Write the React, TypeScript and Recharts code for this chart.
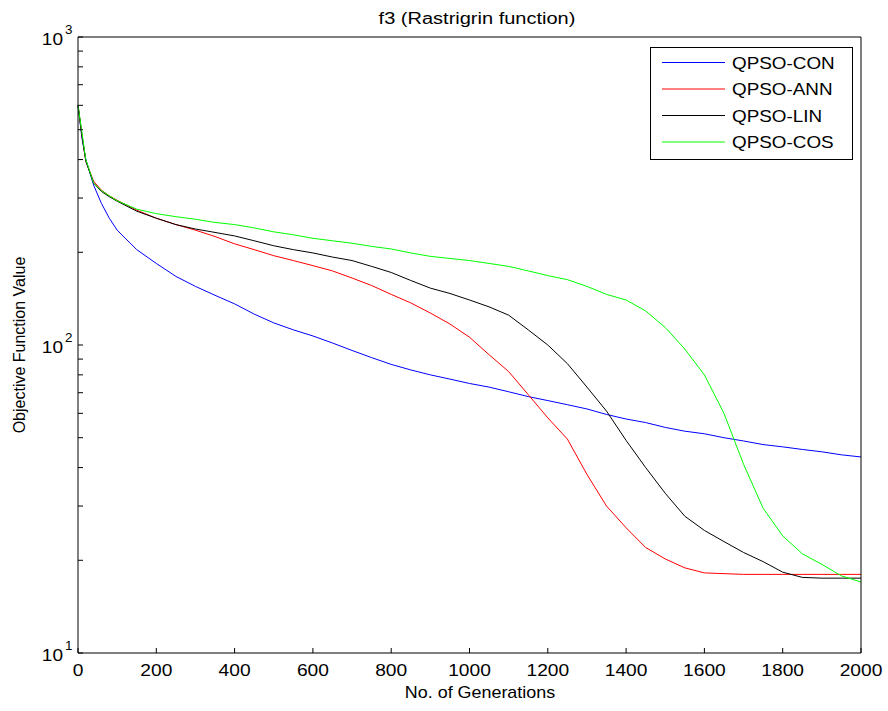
import { LineChart, Line, XAxis, YAxis, Legend } from "recharts";

// generation index of every sample
const generations = [
  0, 10, 20, 40, 60, 80, 100, 150, 200, 250, 300, 350, 400, 450, 500, 550,
  600, 650, 700, 750, 800, 850, 900, 950, 1000, 1050, 1100, 1150, 1200, 1250,
  1300, 1350, 1400, 1450, 1500, 1550, 1600, 1650, 1700, 1750, 1800, 1850,
  1900, 1950, 2000,
];

const qpsoCon = [
  600, 470, 400, 330, 288, 258, 236, 204, 184, 167, 155, 145, 136, 126, 118,
  112, 107, 101.5, 96, 91, 86.5, 83, 80, 77.5, 75, 73, 70.5, 68, 66, 64, 62,
  59.5, 57.5, 56, 54, 52.5, 51.5, 50, 48.8, 47.5, 46.7, 45.8, 45, 44, 43.3,
];

const qpsoAnn = [
  600, 480, 395, 340, 318, 305, 295, 274, 258, 246, 236, 225, 213, 204, 195,
  188, 181, 174, 165, 156, 146, 137, 127, 117, 106, 93, 82, 69, 58, 49.5, 38,
  30, 25.5, 22, 20.2, 18.9, 18.2, 18.1, 18, 18, 18, 18, 18, 18, 18,
];

const qpsoLin = [
  600, 480, 395, 335, 315, 303, 293, 272, 258, 246, 238, 232, 226, 218, 210,
  204, 199, 193, 188, 180, 172, 162, 153, 147, 140, 133, 125, 112, 100, 87, 73,
  61, 49, 40, 33, 27.8, 25, 23, 21.2, 19.8, 18.3, 17.6, 17.5, 17.5, 17.5,
];

const qpsoCos = [
  600, 490, 400, 335, 317, 305, 294, 276, 267, 261, 256, 250, 246, 240, 233,
  228, 222, 218, 214, 209, 205, 199, 194, 191, 188, 184, 180, 174, 168, 163,
  155, 146, 140, 129, 114, 97, 80, 60, 41, 29.5, 24, 21, 19.4, 17.8, 17,
];

const seriesNames = ["QPSO-CON", "QPSO-ANN", "QPSO-LIN", "QPSO-COS"];
const xTicks = [0, 200, 400, 600, 800, 1000, 1200, 1400, 1600, 1800, 2000];
const yTicks = [
  10, 20, 30, 40, 50, 60, 70, 80, 90, 100, 200, 300, 400, 500, 600, 700, 800,
  900, 1000,
];

const data = generations.map((g, i) => ({
  gen: g,
  con: qpsoCon[i],
  ann: qpsoAnn[i],
  lin: qpsoLin[i],
  cos: qpsoCos[i],
}));

const FONT = "'Liberation Sans', Arial, sans-serif";
const tickStroke = { stroke: "#000", strokeWidth: 1 };

const isDecade = (v: number) => {
  const e = Math.round(Math.log10(v));
  return Math.abs(Math.pow(10, e) - v) < 1e-6;
};

// decade label: 10 with a raised exponent, minor ticks get no label
const DecadeTick = (props: any) => {
  const x = Number(props.x);
  const y = Number(props.y);
  const v = Number(props.payload.value);
  if (!isDecade(v)) return <g />;
  const exp = Math.round(Math.log10(v));
  return (
    <g fontFamily={FONT} fill="#000" stroke="none">
      <text transform={`translate(${x - 15},${y + 8}) scale(1.12,1)`} textAnchor="end" fontSize={17}>
        10
      </text>
      <text transform={`translate(${x - 13},${y - 3}) scale(1.12,1)`} fontSize={12}>
        {exp}
      </text>
    </g>
  );
};

const BottomTick = (props: any) => {
  const x = Number(props.x);
  const y = Number(props.y);
  return (
    <text
      transform={`translate(${x},${y + 23}) scale(1.2,1)`}
      textAnchor="middle"
      fontSize={16}
      fontFamily={FONT}
      fill="#000"
      stroke="none"
    >
      {props.payload.value}
    </text>
  );
};

const LegendBox = (props: any) => {
  const items = [...(props.payload || [])].sort(
    (a: any, b: any) => seriesNames.indexOf(a.value) - seriesNames.indexOf(b.value)
  );
  return (
    <svg width={203} height={113} style={{ display: "block" }}>
      <rect x={0.5} y={0.5} width={202} height={112} fill="#fff" stroke="#000" />
      {items.map((it: any, i: number) => {
        const cy = 15.5 + i * 26.5;
        return (
          <g key={it.value}>
            <line x1={12} x2={75} y1={cy} y2={cy} stroke={it.color} />
            <text
              transform={`translate(82,${cy + 6}) scale(1.18,1)`}
              fontSize={16}
              fontFamily={FONT}
              fill="#000"
            >
              {it.value}
            </text>
          </g>
        );
      })}
    </svg>
  );
};

export default function App() {
  return (
    <div style={{ position: "absolute", left: 0, top: 0, width: 888, height: 711, background: "#fff" }}>
      <LineChart
        width={888}
        height={711}
        data={data}
        margin={{ top: 0, right: 0, bottom: 0, left: 0 }}
        style={{ fontFamily: FONT }}
      >
        <XAxis
          xAxisId="b"
          dataKey="gen"
          type="number"
          domain={[0, 2000]}
          ticks={xTicks}
          interval={0}
          height={58}
          tickSize={-5}
          tickMargin={5}
          tickLine={tickStroke}
          axisLine={{ stroke: "#000" }}
          tick={<BottomTick />}
        />
        <XAxis
          xAxisId="t"
          orientation="top"
          type="number"
          domain={[0, 2000]}
          ticks={xTicks}
          interval={0}
          height={37}
          tickSize={-5}
          tickLine={tickStroke}
          axisLine={{ stroke: "#000" }}
          tick={false}
        />
        <YAxis
          yAxisId="l"
          scale="log"
          type="number"
          domain={[10, 1000]}
          ticks={yTicks}
          interval={0}
          width={78}
          tickSize={-5}
          tickMargin={5}
          tickLine={tickStroke}
          axisLine={{ stroke: "#000" }}
          tick={<DecadeTick />}
        />
        <YAxis
          yAxisId="r"
          orientation="right"
          scale="log"
          type="number"
          domain={[10, 1000]}
          ticks={yTicks}
          interval={0}
          width={27}
          tickSize={-5}
          tickLine={tickStroke}
          axisLine={{ stroke: "#000" }}
          tick={false}
        />
        <Line xAxisId="b" yAxisId="l" type="linear" dataKey="con" name="QPSO-CON" stroke="#0000ff" strokeWidth={1} dot={false} isAnimationActive={false} />
        <Line xAxisId="b" yAxisId="l" type="linear" dataKey="ann" name="QPSO-ANN" stroke="#ff0000" strokeWidth={1} dot={false} isAnimationActive={false} />
        <Line xAxisId="b" yAxisId="l" type="linear" dataKey="lin" name="QPSO-LIN" stroke="#000000" strokeWidth={1} dot={false} isAnimationActive={false} />
        <Line xAxisId="b" yAxisId="l" type="linear" dataKey="cos" name="QPSO-COS" stroke="#00ff00" strokeWidth={1} dot={false} isAnimationActive={false} />
        <Legend
          layout="horizontal"
          verticalAlign="middle"
          align="center"
          content={<LegendBox />}
          wrapperStyle={{ left: 650, top: 47, width: 203, height: 113 }}
        />
        <text x={477} y={24} textAnchor="middle" fontSize={16} fontFamily={FONT} transform="translate(477,0) scale(1.25,1) translate(-477,0)">
          f3 (Rastrigrin function)
        </text>
        <text x={480} y={698} textAnchor="middle" fontSize={16} fontFamily={FONT} transform="translate(480,0) scale(1.12,1) translate(-480,0)">
          No. of Generations
        </text>
        <text x={25} y={345} textAnchor="middle" fontSize={16} fontFamily={FONT} transform="rotate(-90 25 345)">
          Objective Function Value
        </text>
      </LineChart>
    </div>
  );
}
